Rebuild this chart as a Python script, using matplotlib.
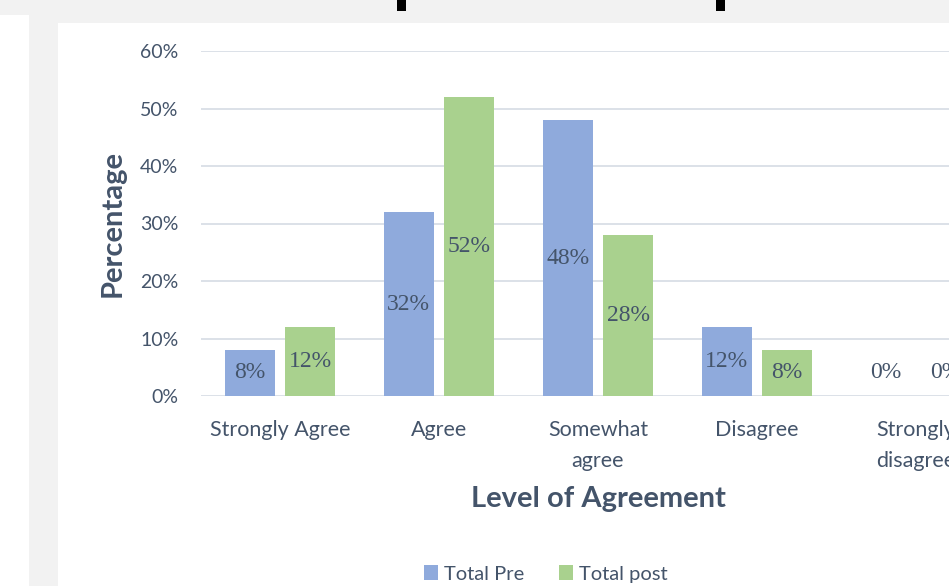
import numpy as np
import matplotlib
matplotlib.use('Agg')
import matplotlib.pyplot as plt
from matplotlib.patches import Rectangle

# Données du graphique
categories = ['Strongly Agree', 'Agree', 'Somewhat\nagree', 'Disagree', 'Strongly\ndisagree']
total_pre = [0.08, 0.32, 0.48, 0.12, 0.00]
total_post = [0.12, 0.52, 0.28, 0.08, 0.00]
yticks = [0, 0.1, 0.2, 0.3, 0.4, 0.5, 0.6]
ytick_labels = ['0%', '10%', '20%', '30%', '40%', '50%', '60%']

text_col = '#44546A'
blue = '#8FAADC'
green = '#A9D18E'

plt.rcParams['font.family'] = ['Lato', 'DejaVu Sans']

fig = plt.figure(figsize=(9.49, 5.86), dpi=100, facecolor='#f2f2f2')

# panneaux blancs du fond
fig.patches.append(Rectangle((0, 0), 29 / 949, 571 / 586, transform=fig.transFigure,
                             facecolor='white', edgecolor='none', zorder=-2))
fig.patches.append(Rectangle((58 / 949, 0), 891 / 949, 563 / 586, transform=fig.transFigure,
                             facecolor='white', edgecolor='none', zorder=-2))
# morceaux du titre coupé en haut
for x0 in [397, 716]:
    fig.patches.append(Rectangle((x0 / 949, 575 / 586), 9 / 949, 11 / 586, transform=fig.transFigure,
                                 facecolor='black', edgecolor='none', zorder=-1))

ax = fig.add_axes([200.5 / 949, 190 / 586, 795 / 949, 345 / 586])
ax.set_facecolor('none')
ax.set_zorder(2)

x = np.arange(len(categories))
w = 0.314
off = 0.19
bars_pre = ax.bar(x - off, total_pre, w, color=blue, label='Total Pre', zorder=2)
bars_post = ax.bar(x + off, total_post, w, color=green, label='Total post', zorder=2)

# étiquettes des valeurs au centre des barres
for bars, vals in [(bars_pre, total_pre), (bars_post, total_post)]:
    for b, v in zip(bars, vals):
        cx = b.get_x() + b.get_width() / 2
        if v > 0:
            ax.text(cx, v / 2, f'{v:.0%}', ha='center', va='center', fontsize=17,
                    family='Liberation Serif', color=text_col, zorder=3)
        else:
            ax.annotate(f'{v:.0%}', (cx, 0), xytext=(0, 17), textcoords='offset points',
                        ha='center', va='center', fontsize=17,
                        family='Liberation Serif', color=text_col, zorder=3)

ax.set_xlim(-0.5, len(categories) - 0.5)
ax.set_ylim(0, 0.6)
ax.set_yticks(yticks)
ax.set_yticklabels(ytick_labels)
ax.set_xticks(x)
ax.set_xticklabels(categories, linespacing=1.7)
ax.tick_params(axis='y', length=0, pad=16, labelsize=14, labelcolor=text_col)
ax.tick_params(axis='x', length=0, pad=17, labelsize=15.5, labelcolor=text_col)
ax.grid(axis='y', color='#d9dee6', linewidth=1.3, zorder=0)
ax.set_axisbelow(True)
for s in ax.spines.values():
    s.set_visible(False)

ax.set_ylabel('Percentage', fontsize=21, fontweight='bold', color=text_col)
ax.yaxis.set_label_coords(-0.110, 0.5)
ax.yaxis.label.set_verticalalignment('center')
ax.set_xlabel('Level of Agreement', fontsize=21, fontweight='bold', color=text_col)
ax.xaxis.set_label_coords(0.5, -0.30)
ax.xaxis.label.set_verticalalignment('center')

leg = fig.legend(loc='center', bbox_to_anchor=(546 / 949, 12 / 586), ncol=2, frameon=False,
                 fontsize=14.5, labelcolor=text_col, handlelength=0.7, handleheight=0.7,
                 handletextpad=0.3, columnspacing=1.7)
leg.set_zorder(3)

fig.savefig('out.png', dpi=100, facecolor=fig.get_facecolor())
